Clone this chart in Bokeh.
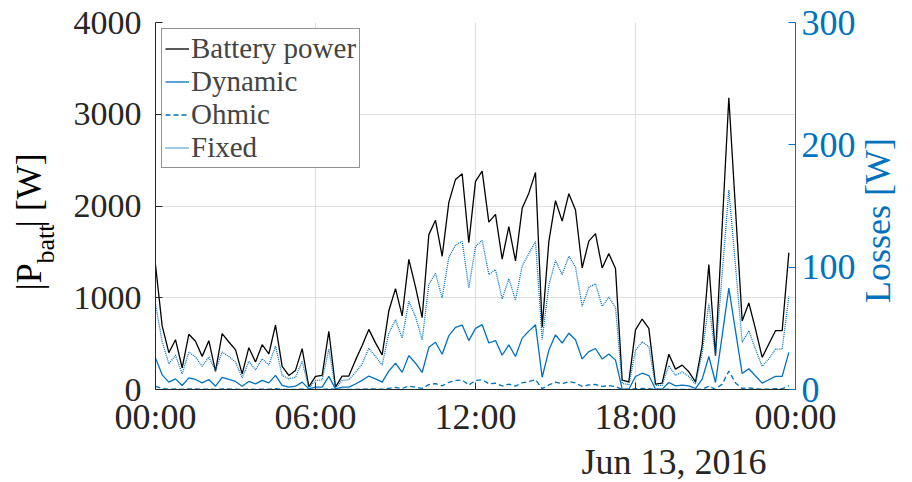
import pandas as pd
from math import pi
from bokeh.plotting import figure
from bokeh.layouts import row
from bokeh.models import (Range1d, LinearAxis, FixedTicker, Label, Legend, LegendItem, Title)
from bokeh.embed import file_html
from bokeh.resources import INLINE

# ---------------- data ----------------
start = "2016-06-13 00:00"
interval = "15min"
date_text = "Jun 13, 2016"

battery_power = [1358, 693, 401, 543, 237, 602, 526, 361, 532, 197,
                 609, 518, 434, 171, 456, 299, 488, 387, 701, 252,
                 153, 208, 445, 30, 142, 153, 635, 25, 146, 146,
                 320, 480, 655, 508, 378, 858, 1100, 802, 1419, 1118,
                 784, 1688, 1844, 1452, 2040, 2290, 2352, 1600, 2268, 2380,
                 1825, 1909, 1422, 1775, 1401, 1975, 2140, 2366, 680, 1612,
                 2058, 1835, 2134, 1956, 1325, 1617, 1699, 1325, 1481, 1318,
                 102, 84, 649, 768, 667, 58, 69, 384, 222, 266,
                 193, 84, 477, 1362, 368, 1774, 3180, 1964, 747, 944,
                 659, 350, 495, 641, 641, 1490]

dynamic = [25.7, 12, 6, 8.7, 3.3, 9.5, 8.2, 5.4, 8.2, 2.7,
           10, 8.2, 6.6, 2.7, 6.6, 4.6, 7.4, 5.4, 11.5, 3.3,
           1.9, 2.7, 6, 0.5, 1.9, 1.9, 10.7, 0.5, 1.9, 1.9,
           4.5, 7.5, 11, 8.7, 6, 15, 21.5, 14, 27.7, 21.5,
           13.9, 34.5, 38.6, 28.8, 44, 50.8, 52.7, 40, 50, 53,
           38, 40, 28, 36.5, 27, 42, 47.7, 53, 10, 32,
           44.7, 38, 46, 40.6, 25, 31, 33.5, 25, 29, 24,
           0.5, 0.2, 10.6, 13.3, 11.4, 0.2, 0.3, 5.7, 3, 3.5,
           3, 0.8, 8.5, 27, 5.7, 44, 82.8, 48, 13, 17,
           11, 5.2, 8, 10.7, 10.7, 30.3]

ohmic = [2.6, 0.7, 0.2, 0.4, 0.1, 0.5, 0.4, 0.2, 0.4, 0.1,
         0.5, 0.4, 0.3, 0.0, 0.3, 0.1, 0.3, 0.2, 0.7, 0.1,
         0.0, 0.1, 0.3, 0.0, 0.0, 0.0, 0.6, 0.0, 0.0, 0.0,
         0.1, 0.3, 0.6, 0.4, 0.2, 1.0, 1.7, 0.9, 2.8, 1.8,
         0.9, 4.0, 4.8, 3.0, 5.9, 7.4, 7.8, 3.6, 7.3, 8.0,
         4.7, 5.1, 2.9, 4.4, 2.8, 5.5, 6.5, 7.9, 0.7, 3.7,
         6.0, 4.7, 6.4, 5.4, 2.5, 3.7, 4.1, 2.5, 3.1, 2.5,
         0.0, 0.0, 0.6, 0.8, 0.6, 0.0, 0.0, 0.2, 0.1, 0.1,
         0.1, 0.0, 0.3, 2.6, 0.2, 4.4, 15.0, 5.4, 0.8, 1.3,
         0.6, 0.2, 0.3, 0.6, 0.6, 3.1]

fixed = [70, 39, 21, 28, 12.8, 30.6, 26.5, 19, 26.5, 15.6,
         30.6, 27, 22.4, 9.5, 23, 16, 25, 20, 35.5, 11.5,
         8.7, 10, 23, 1, 7.4, 7.9, 33, 1, 7.4, 8,
         14, 21, 33.7, 27, 20, 46, 57, 42, 72, 59.5,
         40.5, 86, 95, 75, 108, 118, 121, 83, 117, 122,
         94, 98, 74, 90.5, 73, 101, 111, 121, 41, 85,
         105.5, 94, 109, 100, 68, 83.5, 86.5, 68, 75.5, 67,
         5, 4, 32, 39, 35, 3.3, 3.3, 19.6, 11.5, 14.5,
         10.7, 4.4, 30, 70, 27.6, 94.5, 163, 101, 38.5, 48,
         33, 19, 25, 33, 33, 76]

series_names = ["Battery power", "Dynamic", "Ohmic", "Fixed"]
x_tick_labels = ["00:00", "06:00", "12:00", "18:00", "00:00"]
left_ticks = [0, 1000, 2000, 3000, 4000]
right_ticks = [0, 100, 200, 300]
ylabel_parts = ["|P", "batt", "| [W]"]
right_label = "Losses [W]"

# ---------------- styling ----------------
FONT = "Liberation Serif"
BLUE = "#0072BD"
DARK = "#262626"
H = 482
FRAME_TOP, FRAME_BOTTOM = 22, 389


def strip(width):
    f = figure(width=width, height=H, output_backend="svg", toolbar_location=None,
               x_axis_location=None, y_axis_location=None, min_border=0,
               x_range=Range1d(0, 1), y_range=Range1d(0, 1))
    f.outline_line_color = None
    f.xgrid.visible = False
    f.ygrid.visible = False
    return f


lab = dict(x_units="screen", y_units="screen", angle=pi / 2, text_font=FONT,
           text_baseline="alphabetic")

# ---------------- left label strip ----------------
lf = strip(60)
lf.add_layout(Label(x=28, y=FRAME_BOTTOM - 290, text=ylabel_parts[0], text_font_size="36px",
                    text_align="left", text_color="black", **lab))
lf.add_layout(Label(x=45, y=FRAME_BOTTOM - 263, text=ylabel_parts[1], text_font_size="26px",
                    text_align="left", text_color="black", **lab))
lf.add_layout(Label(x=28, y=FRAME_BOTTOM - 227, text=ylabel_parts[2], text_font_size="36px",
                    text_align="left", text_color="black", **lab))

# ---------------- right label strip ----------------
rf = strip(54)
rf.add_layout(Label(x=19, y=FRAME_BOTTOM - 220, text=right_label, text_font_size="36px",
                    text_align="center", text_color=BLUE, **lab))

# ---------------- main figure ----------------
t = pd.date_range(start, periods=len(battery_power), freq=interval)
t0 = pd.Timestamp(start)
t_end = t0 + pd.Timedelta(days=1)

p = figure(width=798, height=H, x_axis_type="datetime",
           output_backend="svg", toolbar_location=None,
           x_range=Range1d(t0, t_end), y_range=Range1d(0, 4000),
           min_border_left=95, min_border_right=60,
           min_border_top=FRAME_TOP, min_border_bottom=H - FRAME_BOTTOM)
p.outline_line_color = None

tick_ms = [int((t0 + pd.Timedelta(hours=6 * k)).value // 10**6) for k in range(len(x_tick_labels))]
p.xaxis.ticker = FixedTicker(ticks=tick_ms)
p.xaxis.major_label_overrides = {ms: lb for ms, lb in zip(tick_ms, x_tick_labels)}
p.yaxis.ticker = FixedTicker(ticks=left_ticks)

for ax in (p.xaxis[0], p.yaxis[0]):
    ax.major_tick_in = 7
    ax.major_tick_out = 0
    ax.minor_tick_line_color = None
    ax.axis_line_color = DARK
    ax.major_tick_line_color = DARK
    ax.major_label_text_font = FONT
    ax.major_label_text_color = DARK
p.yaxis.major_label_text_font_size = "34px"
p.xaxis.major_label_text_font_size = "36px"
p.yaxis.major_label_standoff = 14
p.xaxis.major_label_standoff = 7

p.xgrid.grid_line_color = "#e0e0e0"
p.ygrid.grid_line_color = "#e0e0e0"

p.extra_y_ranges = {"losses": Range1d(0, 300)}
rax = LinearAxis(y_range_name="losses", ticker=FixedTicker(ticks=right_ticks))
rax.major_tick_in = 7
rax.major_tick_out = 0
rax.minor_tick_line_color = None
rax.axis_line_color = BLUE
rax.major_tick_line_color = BLUE
rax.major_label_text_color = BLUE
rax.major_label_text_font = FONT
rax.major_label_text_font_size = "36px"
rax.major_label_standoff = 6
p.add_layout(rax, "right")

r_bat = p.line(t, battery_power, color="black", line_width=1.3)
r_dyn = p.line(t, dynamic, y_range_name="losses", color=BLUE, line_width=1.3)
r_ohm = p.line(t, ohmic, y_range_name="losses", color=BLUE, line_width=1.3, line_dash="5 3")
r_fix = p.line(t, fixed, y_range_name="losses", color=BLUE, line_width=1.3, line_dash="1 1")

legend = Legend(items=[LegendItem(label=n, renderers=[r]) for n, r in
                       zip(series_names, [r_bat, r_dyn, r_ohm, r_fix])],
                location="top_left", margin=6, padding=3, spacing=0,
                label_height=33, glyph_height=33, glyph_width=24, label_standoff=2,
                label_text_font=FONT, label_text_font_size="29px",
                border_line_color=DARK, border_line_width=1,
                background_fill_color="white", background_fill_alpha=1)
p.add_layout(legend)

date_title = Title(text=date_text, align="right", offset=29, standoff=0,
                   text_font=FONT, text_font_size="36px", text_font_style="normal",
                   text_color=DARK)
p.add_layout(date_title, "below")

layout = row(lf, p, rf)
open("out.html", "w").write(file_html(layout, INLINE))
